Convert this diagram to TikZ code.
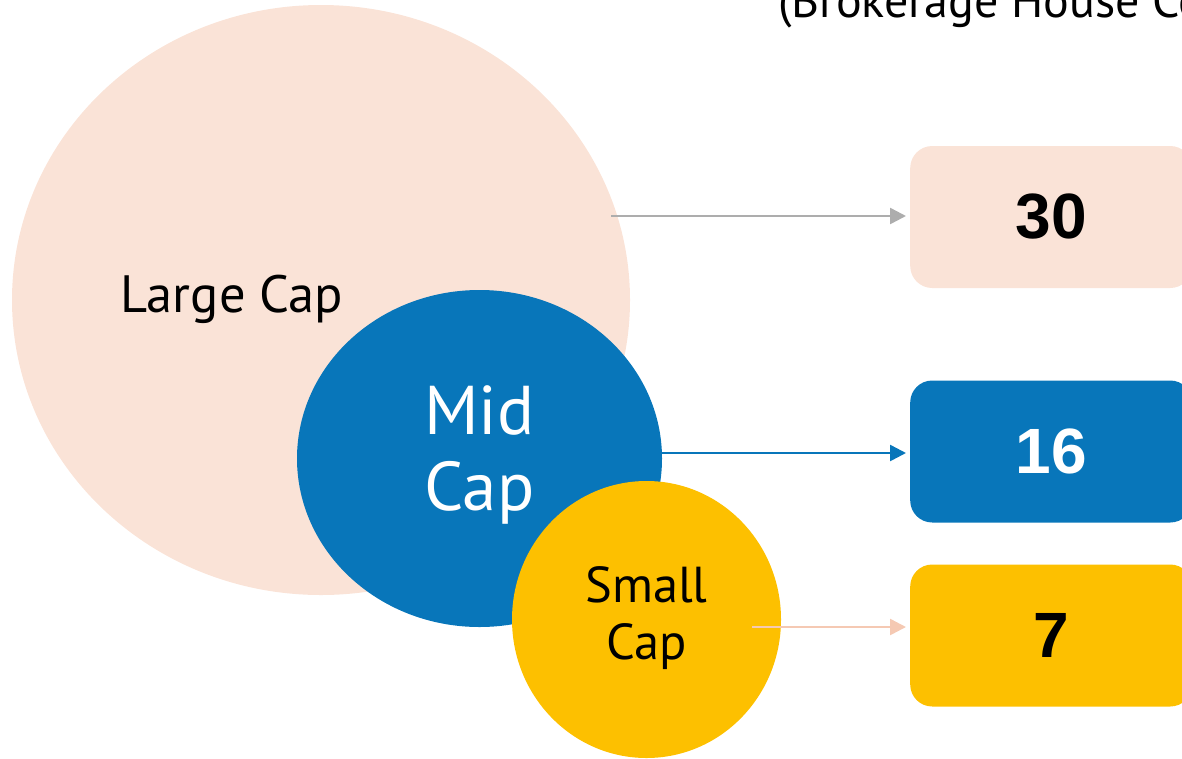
\documentclass[tikz,border=0pt]{standalone}
\usepackage{fontspec}
\setmainfont{PT Sans}
\newfontfamily\numfont{Liberation Sans}
\usetikzlibrary{arrows.meta,shapes.geometric,calc}
\definecolor{peach}{HTML}{FAE3D7}
\definecolor{capblue}{HTML}{0876BA}
\definecolor{capgold}{HTML}{FDC000}
\definecolor{linkgray}{HTML}{ADADAD}
\definecolor{linkpink}{HTML}{F5C9B3}
\tikzset{
  bubble/.style={ellipse, inner sep=0pt, draw=none},
  valbox/.style={rectangle, rounded corners=22pt, minimum width=282pt,
    minimum height=142pt, inner sep=0pt, anchor=west,
    font=\numfont\bfseries\fontsize{64}{64}\selectfont},
  link/.style={line width=2.5pt, shorten >=4pt,
    -{Triangle[length=16pt,width=16pt]}},
  lbl/.style={inner sep=0pt, anchor=base}
}
\begin{document}
\begin{tikzpicture}[x=1pt,y=-1pt]
\useasboundingbox (0,0) rectangle (1182,758);

% market-cap bubbles
\node[bubble, fill=peach, minimum width=618pt, minimum height=590pt] (large) at (321,300) {};
\node[bubble, fill=capblue, minimum width=365pt, minimum height=337pt] (mid) at (479.5,458.5) {};
\node[bubble, fill=capgold, minimum width=269pt, minimum height=277pt] (small) at (646.5,619.5) {};

% bubble labels
\node[lbl, font=\fontsize{52.5}{58}\selectfont] (largetxt) at (232,312) {Large Cap};
\node[lbl, font=\fontsize{69}{76}\selectfont, text=white] (midtxt1) at (479.5,434) {Mid};
\node[lbl, font=\fontsize{69}{76}\selectfont, text=white] (midtxt2) at (479.5,510) {Cap};
\node[lbl, font=\fontsize{50.5}{57}\selectfont] (smalltxt1) at (646.5,602) {Small};
\node[lbl, font=\fontsize{50.5}{57}\selectfont] (smalltxt2) at (646.5,659) {Cap};

% heading
\node[inner sep=0pt, anchor=base west, font=\fontsize{48}{52}\selectfont] (heading) at (778,17) {(Brokerage House Co};

% count boxes
\node[valbox, fill=peach] (box30) at (910,217) {30};
\node[valbox, fill=capblue, text=white] (box16) at (910,451.5) {16};
\node[valbox, fill=capgold] (box7) at (910,635.5) {7};

% connectors
\coordinate (gstart) at (611,216);
\coordinate (bstart) at (662,453);
\coordinate (pstart) at (752,627);
\draw[link, draw=linkgray, fill=linkgray] (gstart) -- (gstart -| box30.west);
\draw[link, draw=capblue, fill=capblue] (bstart) -- (bstart -| box16.west);
\draw[link, draw=linkpink, fill=linkpink] (pstart) -- (pstart -| box7.west);
\end{tikzpicture}
\end{document}
